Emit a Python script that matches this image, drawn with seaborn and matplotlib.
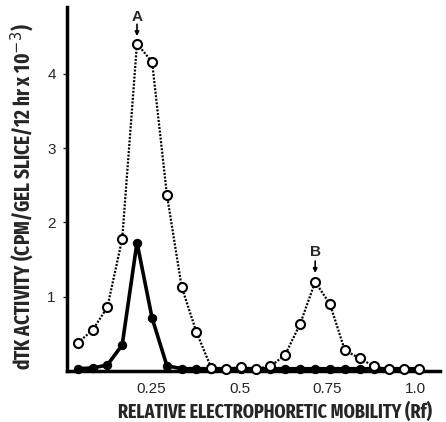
import matplotlib
matplotlib.use("Agg")
import matplotlib.pyplot as plt
from matplotlib import font_manager as fm
import seaborn as sns
import pandas as pd

sns.set_style("white")
plt.rcParams['font.family'] = ['Liberation Sans', 'DejaVu Sans']

# Relative mobility (Rf) of each gel slice
rf = [0.041, 0.083, 0.125, 0.167, 0.209, 0.252, 0.294, 0.336, 0.378, 0.420,
      0.462, 0.504, 0.546, 0.588, 0.630, 0.672, 0.715, 0.757, 0.799, 0.841,
      0.883, 0.925, 0.967, 1.009]
# open circles (dotted line)
open_vals = [0.38, 0.55, 0.86, 1.78, 4.41, 4.16, 2.37, 1.13, 0.52, 0.04,
             0.03, 0.05, 0.03, 0.06, 0.22, 0.63, 1.20, 0.90, 0.28, 0.17,
             0.06, 0.02, 0.02, 0.02]
# filled circles (solid line)
filled_vals = [0.03, 0.04, 0.08, 0.35, 1.73, 0.71, 0.07, 0.03, 0.03, 0.03,
               0.03, 0.03, 0.03, 0.03, 0.03, 0.03, 0.03, 0.03, 0.03, 0.03,
               0.03, 0.03, 0.03, 0.03]
xticks = [0.25, 0.5, 0.75, 1.0]
xticklabels = ["0.25", "0.5", "0.75", "1.0"]
yticks = [1, 2, 3, 4]
yticklabels = ["1", "2", "3", "4"]
xlabel = "RELATIVE ELECTROPHORETIC MOBILITY (Rf)"
ylabel = "dTK ACTIVITY (CPM/GEL SLICE/12 hr x 10$^{-3}$)"


def find_condensed_bold():
    best = None
    best_score = -100
    for f in fm.fontManager.ttflist:
        n = (f.name + " " + f.fname).lower()
        st = str(f.stretch).lower()
        cond = ('narrow' in n or 'condensed' in n or 'condensed' in st)
        if not cond or f.style != 'normal' or 'italic' in n:
            continue
        try:
            w = int(f.weight)
        except Exception:
            w = 700 if 'bold' in str(f.weight) else 400
        score = 0
        if ('bold' in n or w >= 700) and 'semibold' not in n and 'extrabold' not in n:
            score += 10
        if 'extracondensed' in n.replace(' ', '') or 'extra-condensed' in st:
            score += 2
        if 'ultra' in n or 'semi' in n:
            score -= 3
        if 'black' in n or 'light' in n or 'thin' in n or 'medium' in n:
            score -= 5
        if score > best_score:
            best, best_score = f, score
    if best is not None:
        return fm.FontProperties(fname=best.fname)
    return fm.FontProperties(family=['Roboto', 'DejaVu Sans'], weight='bold')


label_fp = find_condensed_bold()

df = pd.DataFrame({"rf": rf, "open": open_vals, "filled": filled_vals})

fig = plt.figure(figsize=(4.46, 4.22), dpi=100)
ax = fig.add_axes([0.150, 0.121, 0.837, 0.862])

sns.lineplot(data=df, x="rf", y="filled", ax=ax, color="black", linewidth=2.6,
             marker="o", markersize=6, markerfacecolor="black",
             markeredgecolor="black", clip_on=False, zorder=3)
sns.lineplot(data=df, x="rf", y="open", ax=ax, color="black", linewidth=1.6,
             linestyle=(0, (0.9, 0.7)), marker="o", markersize=6.5,
             markerfacecolor="white", markeredgecolor="black",
             markeredgewidth=1.5, clip_on=False, zorder=4)

ax.set_xlim(0.01, 1.07)
ax.set_ylim(0, 4.9)
ax.set_xticks(xticks)
ax.set_xticklabels(xticklabels, fontsize=11)
ax.set_yticks(yticks)
ax.set_yticklabels(yticklabels, fontsize=11)
ax.tick_params(axis='both', which='both', length=3, width=1, direction='out',
               bottom=False, left=True, pad=5)

for s in ['top', 'right']:
    ax.spines[s].set_visible(False)
for s in ['left', 'bottom']:
    ax.spines[s].set_linewidth(2.5)
    ax.spines[s].set_color('black')

xl = ax.set_xlabel(xlabel, fontproperties=label_fp)
yl = ax.set_ylabel(ylabel, fontproperties=label_fp)
xl.set_fontsize(14)
yl.set_fontsize(14)
ax.xaxis.set_label_coords(0.558, -0.113)
xl.set_va('center')
ax.yaxis.set_label_coords(-0.119, 0.48)
yl.set_va('center')

# fit label lengths to the reference
fig.canvas.draw()
r = fig.canvas.get_renderer()
wx = xl.get_window_extent(r).width
xl.set_fontsize(min(22, 14 * 314.0 / wx))
hy = yl.get_window_extent(r).height
yl.set_fontsize(min(22, 14 * 347.0 / hy))

# peak annotations
arrow_kw = dict(arrowstyle='-|>', color='black', lw=1.2, mutation_scale=6,
                shrinkA=0, shrinkB=0)
ax.text(rf[4], 4.77, "A", ha='center', va='center', fontsize=11, fontweight='bold')
ax.annotate("", xy=(rf[4], 4.51), xytext=(rf[4], 4.67), arrowprops=arrow_kw)
ax.text(rf[16], 1.60, "B", ha='center', va='center', fontsize=11, fontweight='bold')
ax.annotate("", xy=(rf[16], 1.32), xytext=(rf[16], 1.48), arrowprops=arrow_kw)

fig.savefig("out.png", dpi=100)
